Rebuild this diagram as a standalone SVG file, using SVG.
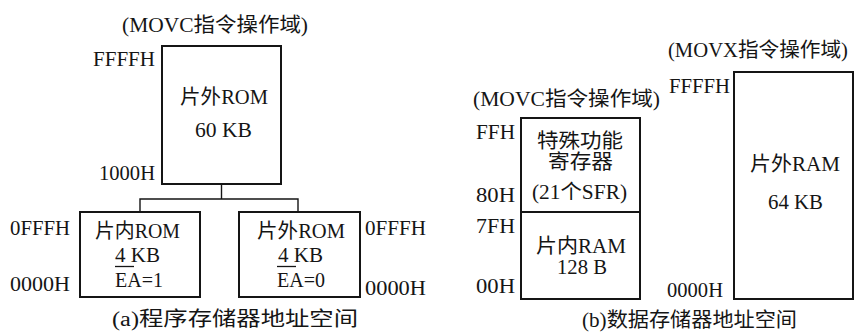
<svg xmlns="http://www.w3.org/2000/svg" width="855" height="332" viewBox="0 0 855 332">
<style>
text{font-family:'Liberation Serif','Noto Sans CJK SC',serif;font-size:20px;fill:#151515}
.box{fill:none;stroke:#151515;stroke-width:2}
.conn{fill:none;stroke:#151515;stroke-width:1.4}
.ov{stroke:#151515;stroke-width:1.3}
</style>
<rect width="855" height="332" fill="#fff"/>
<g id="prog-title"><text x="122" y="32" textLength="186" lengthAdjust="spacingAndGlyphs">(MOVC指令操作域)</text></g>
<g id="ext-rom-60">
<rect class="box" x="162" y="46" width="119" height="138"/>
<text x="180" y="104" textLength="88" lengthAdjust="spacingAndGlyphs">片外ROM</text>
<text x="195" y="137" textLength="57" lengthAdjust="spacingAndGlyphs">60 KB</text>
<text x="93" y="66" textLength="62" lengthAdjust="spacingAndGlyphs">FFFFH</text>
<text x="99" y="180" textLength="56" lengthAdjust="spacingAndGlyphs">1000H</text>
</g>
<g id="connectors">
<polyline class="conn" points="221.5,184 221.5,199"/>
<polyline class="conn" points="140,212 140,199 298,199 298,212"/>
</g>
<g id="int-rom-4">
<rect class="box" x="80" y="212" width="120" height="85"/>
<text x="95" y="238" textLength="85" lengthAdjust="spacingAndGlyphs">片内ROM</text>
<text x="115" y="262" textLength="45" lengthAdjust="spacingAndGlyphs">4 KB</text>
<text x="115" y="287" textLength="48" lengthAdjust="spacingAndGlyphs">EA=1</text>
<line class="ov" x1="115" y1="266.5" x2="134" y2="266.5"/>
<text x="10" y="235" textLength="60" lengthAdjust="spacingAndGlyphs">0FFFH</text>
<text x="10" y="291" textLength="60" lengthAdjust="spacingAndGlyphs">0000H</text>
</g>
<g id="ext-rom-4">
<rect class="box" x="239" y="212" width="121" height="85"/>
<text x="257" y="238" textLength="88" lengthAdjust="spacingAndGlyphs">片外ROM</text>
<text x="278" y="262" textLength="45" lengthAdjust="spacingAndGlyphs">4 KB</text>
<text x="277" y="287" textLength="48" lengthAdjust="spacingAndGlyphs">EA=0</text>
<line class="ov" x1="277" y1="266.5" x2="296" y2="266.5"/>
<text x="365" y="235" textLength="61" lengthAdjust="spacingAndGlyphs">0FFFH</text>
<text x="365" y="295" textLength="61" lengthAdjust="spacingAndGlyphs">0000H</text>
</g>
<g id="caption-a"><text x="112" y="326" textLength="246" lengthAdjust="spacingAndGlyphs">(a)程序存储器地址空间</text></g>
<g id="data-title"><text x="473" y="106" textLength="187" lengthAdjust="spacingAndGlyphs">(MOVC指令操作域)</text></g>
<g id="sfr">
<rect class="box" x="521" y="118" width="119" height="94"/>
<text x="537" y="148" textLength="86" lengthAdjust="spacingAndGlyphs">特殊功能</text>
<text x="548" y="169" textLength="65" lengthAdjust="spacingAndGlyphs">寄存器</text>
<text x="532" y="199" textLength="95" lengthAdjust="spacingAndGlyphs">(21个SFR)</text>
<text x="476" y="139" textLength="39" lengthAdjust="spacingAndGlyphs">FFH</text>
<text x="476" y="202" textLength="39" lengthAdjust="spacingAndGlyphs">80H</text>
</g>
<g id="int-ram">
<rect class="box" x="521" y="212" width="119" height="87"/>
<text x="536" y="253" textLength="90" lengthAdjust="spacingAndGlyphs">片内RAM</text>
<text x="557" y="274" textLength="50" lengthAdjust="spacingAndGlyphs">128 B</text>
<text x="476" y="233" textLength="39" lengthAdjust="spacingAndGlyphs">7FH</text>
<text x="476" y="293" textLength="39" lengthAdjust="spacingAndGlyphs">00H</text>
</g>
<g id="ext-ram">
<text x="668" y="57" textLength="180" lengthAdjust="spacingAndGlyphs">(MOVX指令操作域)</text>
<rect class="box" x="734" y="72" width="119" height="227"/>
<text x="750" y="171" textLength="90" lengthAdjust="spacingAndGlyphs">片外RAM</text>
<text x="768" y="209" textLength="55" lengthAdjust="spacingAndGlyphs">64 KB</text>
<text x="669" y="93" textLength="61" lengthAdjust="spacingAndGlyphs">FFFFH</text>
<text x="667" y="297" textLength="56" lengthAdjust="spacingAndGlyphs">0000H</text>
</g>
<g id="caption-b"><text x="582" y="327" textLength="215" lengthAdjust="spacingAndGlyphs">(b)数据存储器地址空间</text></g>
</svg>
